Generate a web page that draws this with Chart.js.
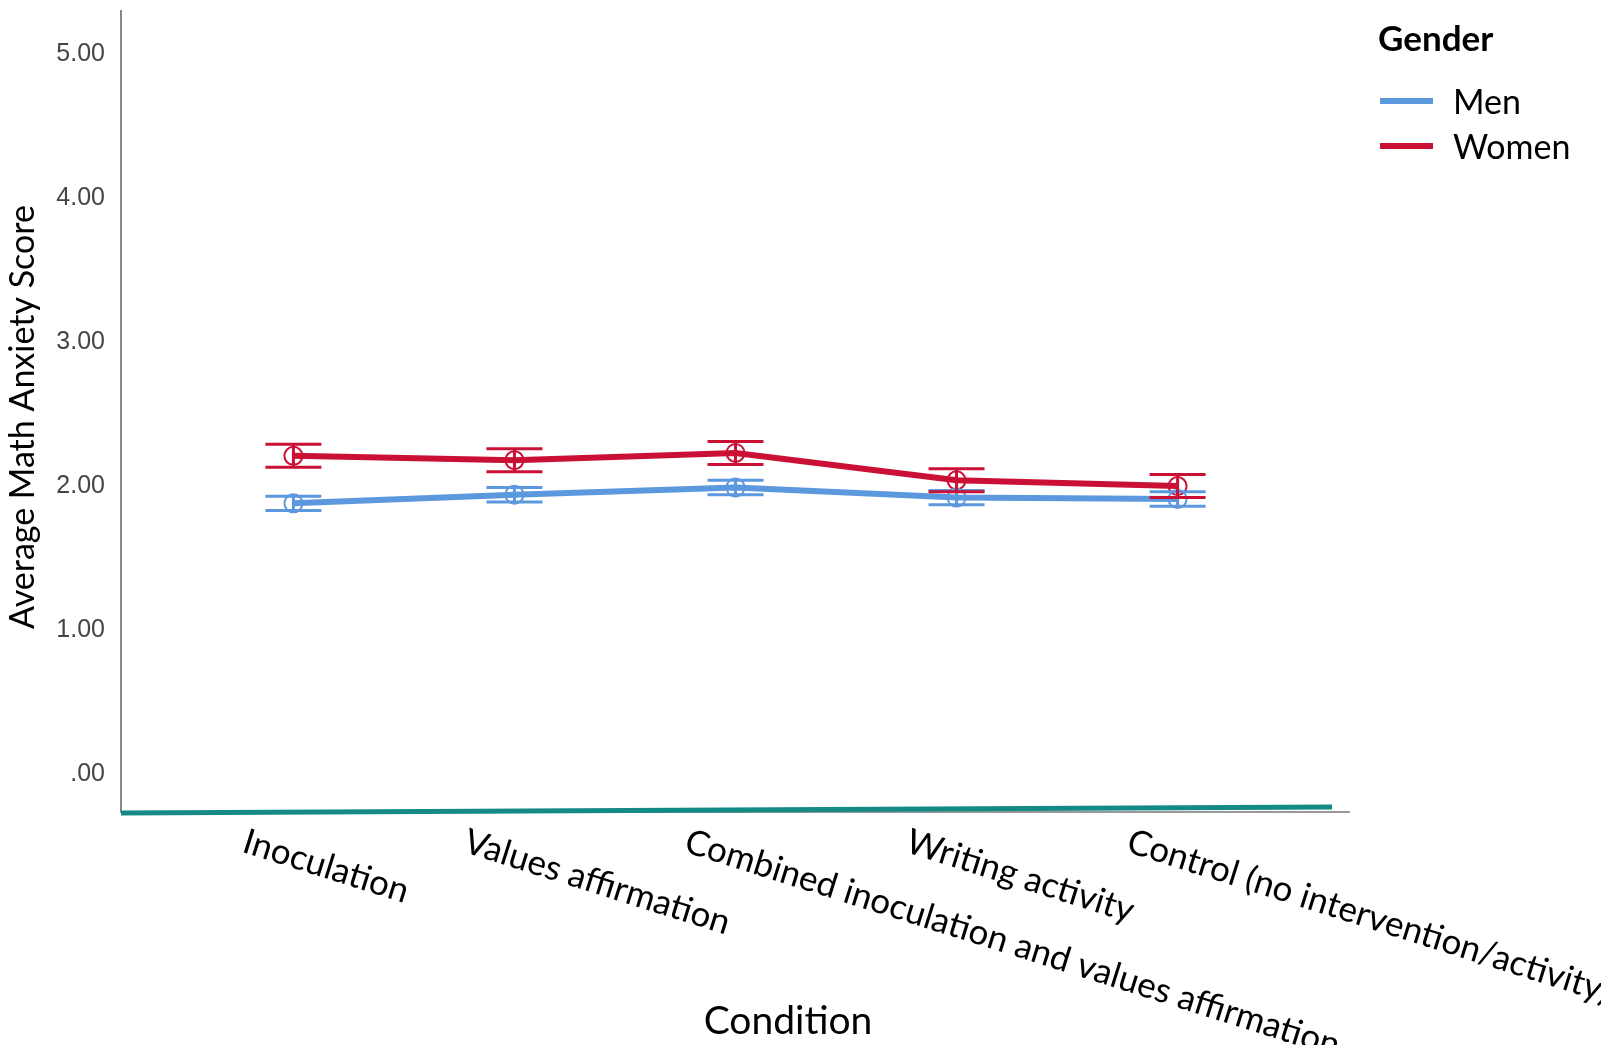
<!DOCTYPE html>
<html lang="en">
<head>
    <meta charset="UTF-8">
    <title>Math Anxiety by Condition and Gender</title>
    <style>
        html, body { margin: 0; padding: 0; background: #fff; }
        #wrap { width: 1601px; height: 1045px; }
    </style>
</head>
<body>
    <div id="wrap"><canvas id="lineChart"></canvas></div>
    <script src="https://cdn.jsdelivr.net/npm/chart.js"></script>
    <script>
        // Data
        const conditions = ['Inoculation', 'Values affirmation', 'Combined inoculation and values affirmation', 'Writing activity', 'Control (no intervention/activity)'];
        const menMeans = [1.88, 1.94, 1.99, 1.92, 1.91];
        const menErr = [0.05, 0.05, 0.05, 0.05, 0.05];
        const womenMeans = [2.21, 2.18, 2.23, 2.04, 2.00];
        const womenErr = [0.08, 0.08, 0.08, 0.08, 0.08];
        const yTicks = [0, 1, 2, 3, 4, 5];

        const MEN_COLOR = 'rgb(92,152,222)';
        const WOMEN_COLOR = 'rgb(202,16,52)';

        const toPoints = (vals) => vals.map((v, i) => ({ x: i + 1, y: v }));

        // error bars with caps
        const errorBars = {
            id: 'errorBars',
            afterDatasetsDraw(chart) {
                const { ctx, scales: { x, y } } = chart;
                chart.data.datasets.forEach(ds => {
                    ctx.save();
                    ctx.strokeStyle = ds.borderColor;
                    ctx.lineWidth = 3;
                    ds.data.forEach((p, i) => {
                        const px = x.getPixelForValue(p.x);
                        const top = y.getPixelForValue(p.y + ds.errors[i]);
                        const bot = y.getPixelForValue(p.y - ds.errors[i]);
                        ctx.beginPath();
                        ctx.moveTo(px, top); ctx.lineTo(px, bot);
                        ctx.moveTo(px - 28, top); ctx.lineTo(px + 28, top);
                        ctx.moveTo(px - 28, bot); ctx.lineTo(px + 28, bot);
                        ctx.stroke();
                    });
                    ctx.restore();
                });
            }
        };

        // axes lines, rotated category labels, titles and legend
        const decorations = {
            id: 'decorations',
            afterDraw(chart) {
                const { ctx, chartArea: a, scales: { x } } = chart;
                ctx.save();
                // gray baseline then teal axis on top
                ctx.strokeStyle = '#999';
                ctx.lineWidth = 2;
                ctx.beginPath();
                ctx.moveTo(a.left, a.bottom); ctx.lineTo(a.right, a.bottom);
                ctx.stroke();
                ctx.strokeStyle = '#138a86';
                ctx.lineWidth = 5;
                ctx.beginPath();
                ctx.moveTo(a.left, a.bottom + 1); ctx.lineTo(a.right - 18, a.bottom - 5);
                ctx.stroke();

                // category labels, slanted downwards
                ctx.fillStyle = '#000';
                ctx.font = '35px Lato';
                ctx.textAlign = 'left';
                ctx.textBaseline = 'top';
                conditions.forEach((c, i) => {
                    const px = x.getPixelForValue(i + 1);
                    ctx.save();
                    ctx.translate(px - 44, 824);
                    ctx.rotate(17.5 * Math.PI / 180);
                    ctx.fillText(c, 0, 0);
                    ctx.restore();
                });

                // axis titles
                ctx.textAlign = 'center';
                ctx.textBaseline = 'middle';
                ctx.font = '39px Lato';
                ctx.fillText('Condition', 788, 1021);
                ctx.save();
                ctx.translate(23, 417);
                ctx.rotate(-Math.PI / 2);
                ctx.font = '34px Lato';
                ctx.fillText('Average Math Anxiety Score', 0, 0);
                ctx.restore();

                // legend
                ctx.textAlign = 'left';
                ctx.font = 'bold 35px Lato';
                ctx.fillText('Gender', 1378, 40);
                ctx.font = '34px Lato';
                [['Men', MEN_COLOR, 101], ['Women', WOMEN_COLOR, 146]].forEach(([lbl, col, ly]) => {
                    ctx.strokeStyle = col;
                    ctx.lineWidth = 6;
                    ctx.beginPath();
                    ctx.moveTo(1380, ly); ctx.lineTo(1433, ly);
                    ctx.stroke();
                    ctx.fillText(lbl, 1453, ly + 2);
                });
                ctx.restore();
            }
        };

        const chartContext = document.getElementById('lineChart').getContext('2d');
        const lineChart = new Chart(chartContext, {
            type: 'line',
            data: {
                datasets: [
                    {
                        label: 'Men',
                        data: toPoints(menMeans),
                        errors: menErr,
                        borderColor: MEN_COLOR,
                        borderWidth: 6,
                        pointRadius: 9,
                        pointBorderWidth: 2,
                        pointBackgroundColor: 'rgba(255,255,255,0)',
                        tension: 0
                    },
                    {
                        label: 'Women',
                        data: toPoints(womenMeans),
                        errors: womenErr,
                        borderColor: WOMEN_COLOR,
                        borderWidth: 6,
                        pointRadius: 9,
                        pointBorderWidth: 2,
                        pointBackgroundColor: 'rgba(255,255,255,0)',
                        tension: 0
                    }
                ]
            },
            options: {
                responsive: true,
                maintainAspectRatio: false,
                animation: false,
                layout: { padding: { left: 0, top: 10, right: 251, bottom: 0 } },
                plugins: { legend: { display: false }, tooltip: { enabled: false } },
                scales: {
                    x: {
                        type: 'linear',
                        min: 0.22,
                        max: 5.78,
                        grid: { display: false },
                        border: { display: false },
                        ticks: { display: false },
                        afterFit(scale) { scale.height = 233; }
                    },
                    y: {
                        min: -0.264,
                        max: 5.3,
                        grid: { display: false },
                        border: { display: true, color: '#888', width: 2 },
                        afterBuildTicks(scale) { scale.ticks = yTicks.map(v => ({ value: v })); },
                        afterFit(scale) {
                            scale.width = 121;
                            scale.paddingTop = 0;
                            scale.paddingBottom = 0;
                        },
                        ticks: {
                            color: '#444',
                            font: { family: 'Liberation Sans', size: 25 },
                            padding: 8,
                            callback: v => v === 0 ? '.00' : v.toFixed(2)
                        }
                    }
                }
            },
            plugins: [errorBars, decorations]
        });
    </script>
</body>
</html>
